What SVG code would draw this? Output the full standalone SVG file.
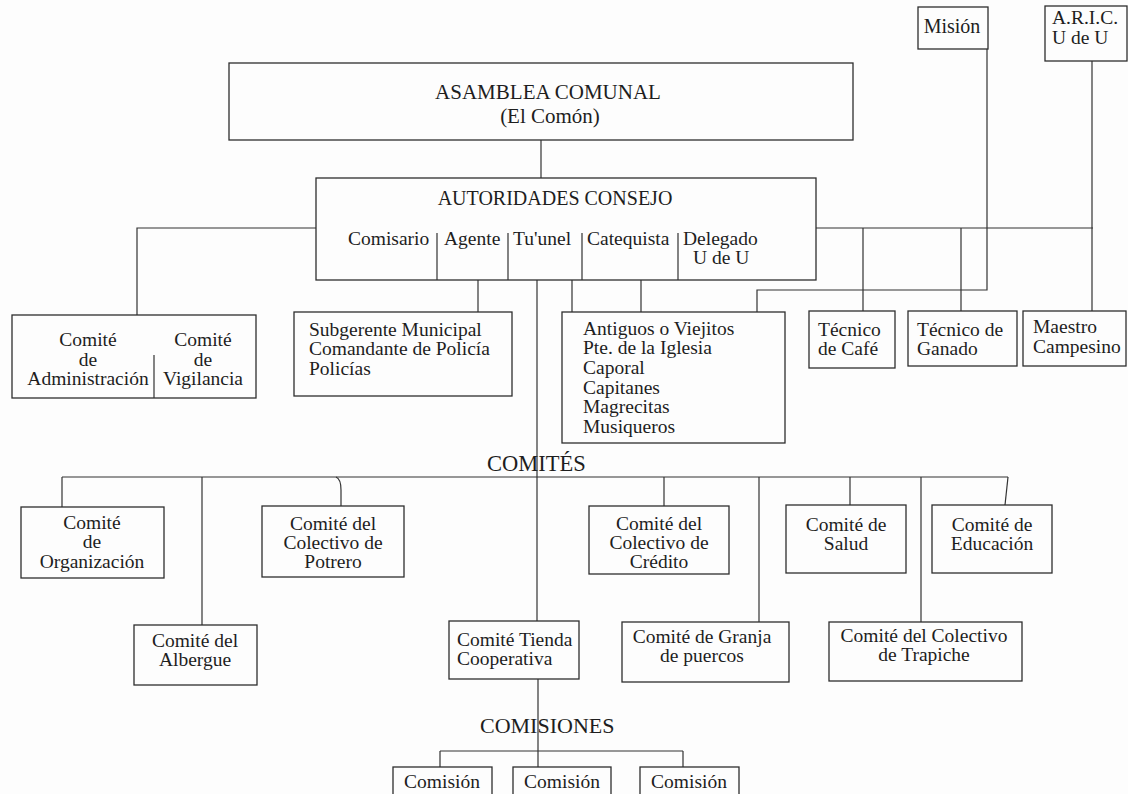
<svg xmlns="http://www.w3.org/2000/svg" width="1128" height="794" viewBox="0 0 1128 794">
  <style>
    .bx { fill: none; stroke: #2e2e2e; stroke-width: 1.3; }
    .ln { fill: none; stroke: #333; stroke-width: 1.2; }
    text { font-family: "Liberation Serif", "Times New Roman", serif; font-size: 19.5px; fill: #1e1e1e; }
    .c { text-anchor: middle; }
    .big { font-size: 21px; }
    .head { font-size: 20px; }
  </style>
  <rect width="1128" height="794" fill="#fdfdfd"/>

  <!-- connectors -->
  <g id="connectors" class="ln">
    <!-- assembly to council -->
    <path d="M541 140 V178"/>
    <!-- council to left committees -->
    <path d="M316 228 H137 V315"/>
    <!-- council to subgerente -->
    <path d="M478 280 V312"/>
    <!-- council to elders box -->
    <path d="M572 280 V312 M641 280 V312"/>
    <!-- mission line -->
    <path d="M987 49 V290 H757 V312"/>
    <!-- council to technicians -->
    <path d="M816 228 H1093 M863 228 V311 M961 228 V311"/>
    <!-- ARIC to teacher -->
    <path d="M1092 61 V311"/>
    <!-- main trunk down to committees -->
    <path d="M537 280 V621"/>
    <!-- committees bus -->
    <path d="M62 477 H1008"/>
    <path d="M62 477 V507"/>
    <path d="M202 477 V625"/>
    <path d="M336 477 Q341 479 341 490 V506"/>
    <path d="M664 477 V506"/>
    <path d="M759 477 V622"/>
    <path d="M850 477 V505"/>
    <path d="M921 477 V622"/>
    <path d="M1008 477 L1005 505"/>
    <!-- store to commissions -->
    <path d="M538 679 V767"/>
    <path d="M440 751 H683 M440 751 V767 M683 751 V767"/>
  </g>

  <!-- top external boxes -->
  <g id="mision">
    <rect class="bx" x="918" y="7" width="70" height="42"/>
    <text class="c head" x="952" y="33">Misión</text>
  </g>
  <g id="aric">
    <rect class="bx" x="1045" y="6" width="82" height="55"/>
    <text x="1052" y="24">A.R.I.C.</text>
    <text x="1052" y="44">U de U</text>
  </g>

  <g id="asamblea">
    <rect class="bx" x="229" y="63" width="624" height="77"/>
    <text class="c big" x="548" y="99">ASAMBLEA COMUNAL</text>
    <text class="c big" x="550" y="123">(El Comón)</text>
  </g>

  <g id="autoridades">
    <rect class="bx" x="316" y="178" width="500" height="102"/>
    <text class="c head" x="555" y="205">AUTORIDADES CONSEJO</text>
    <path class="ln" d="M437 233 V280 M508 233 V280 M582 233 V280 M678 233 V280"/>
    <text x="348" y="245">Comisario</text>
    <text x="444" y="245">Agente</text>
    <text x="513" y="245">Tu'unel</text>
    <text x="587" y="245">Catequista</text>
    <text x="683" y="245">Delegado</text>
    <text x="693" y="264">U de U</text>
  </g>

  <g id="comite-admin-vigilancia">
    <rect class="bx" x="12" y="315" width="244" height="83"/>
    <path class="ln" d="M154 355 V398"/>
    <text class="c" x="88" y="346">Comité</text>
    <text class="c" x="88" y="366">de</text>
    <text class="c" x="88" y="385">Administración</text>
    <text class="c" x="203" y="346">Comité</text>
    <text class="c" x="203" y="366">de</text>
    <text class="c" x="203" y="385">Vigilancia</text>
  </g>

  <g id="subgerente">
    <rect class="bx" x="294" y="312" width="218" height="84"/>
    <text x="309" y="336">Subgerente Municipal</text>
    <text x="309" y="355">Comandante de Policía</text>
    <text x="309" y="375">Policías</text>
  </g>

  <g id="antiguos">
    <rect class="bx" x="562" y="312" width="223" height="131"/>
    <text x="583" y="335">Antiguos o Viejitos</text>
    <text x="583" y="354">Pte. de la Iglesia</text>
    <text x="583" y="374">Caporal</text>
    <text x="583" y="394">Capitanes</text>
    <text x="583" y="413">Magrecitas</text>
    <text x="583" y="433">Musiqueros</text>
  </g>

  <g id="tecnico-cafe">
    <rect class="bx" x="809" y="311" width="86" height="57"/>
    <text x="818" y="336">Técnico</text>
    <text x="818" y="355">de Café</text>
  </g>
  <g id="tecnico-ganado">
    <rect class="bx" x="908" y="311" width="109" height="55"/>
    <text x="917" y="336">Técnico de</text>
    <text x="917" y="355">Ganado</text>
  </g>
  <g id="maestro">
    <rect class="bx" x="1023" y="311" width="103" height="55"/>
    <text x="1033" y="333">Maestro</text>
    <text x="1033" y="353">Campesino</text>
  </g>

  <g id="comites-label">
    <text x="487" y="471" style="font-size:22.5px">COMITÉS</text>
  </g>

  <g id="organizacion">
    <rect class="bx" x="21" y="507" width="143" height="71"/>
    <text class="c" x="92" y="529">Comité</text>
    <text class="c" x="92" y="548">de</text>
    <text class="c" x="92" y="568">Organización</text>
  </g>
  <g id="potrero">
    <rect class="bx" x="262" y="506" width="142" height="71"/>
    <text class="c" x="333" y="530">Comité del</text>
    <text class="c" x="333" y="549">Colectivo de</text>
    <text class="c" x="333" y="568">Potrero</text>
  </g>
  <g id="credito">
    <rect class="bx" x="589" y="506" width="140" height="68"/>
    <text class="c" x="659" y="530">Comité del</text>
    <text class="c" x="659" y="549">Colectivo de</text>
    <text class="c" x="659" y="568">Crédito</text>
  </g>
  <g id="salud">
    <rect class="bx" x="786" y="505" width="120" height="68"/>
    <text class="c" x="846" y="531">Comité de</text>
    <text class="c" x="846" y="550">Salud</text>
  </g>
  <g id="educacion">
    <rect class="bx" x="932" y="505" width="120" height="68"/>
    <text class="c" x="992" y="531">Comité de</text>
    <text class="c" x="992" y="550">Educación</text>
  </g>

  <g id="albergue">
    <rect class="bx" x="134" y="625" width="123" height="60"/>
    <text class="c" x="195" y="647">Comité del</text>
    <text class="c" x="195" y="666">Albergue</text>
  </g>
  <g id="tienda">
    <rect class="bx" x="449" y="621" width="130" height="58"/>
    <text x="457" y="646">Comité Tienda</text>
    <text x="457" y="665">Cooperativa</text>
  </g>
  <g id="granja">
    <rect class="bx" x="622" y="622" width="167" height="60"/>
    <text class="c" x="702" y="643">Comité de Granja</text>
    <text class="c" x="702" y="662">de puercos</text>
  </g>
  <g id="trapiche">
    <rect class="bx" x="829" y="622" width="193" height="59"/>
    <text class="c" x="924" y="642">Comité del Colectivo</text>
    <text class="c" x="924" y="661">de Trapiche</text>
  </g>

  <g id="comisiones-label">
    <text x="480" y="733" style="font-size:22px">COMISIONES</text>
  </g>
  <g id="comision-1">
    <rect class="bx" x="393" y="767" width="99" height="40"/>
    <text class="c" x="442" y="788">Comisión</text>
  </g>
  <g id="comision-2">
    <rect class="bx" x="513" y="767" width="98" height="40"/>
    <text class="c" x="562" y="788">Comisión</text>
  </g>
  <g id="comision-3">
    <rect class="bx" x="640" y="767" width="99" height="40"/>
    <text class="c" x="689" y="788">Comisión</text>
  </g>
</svg>
